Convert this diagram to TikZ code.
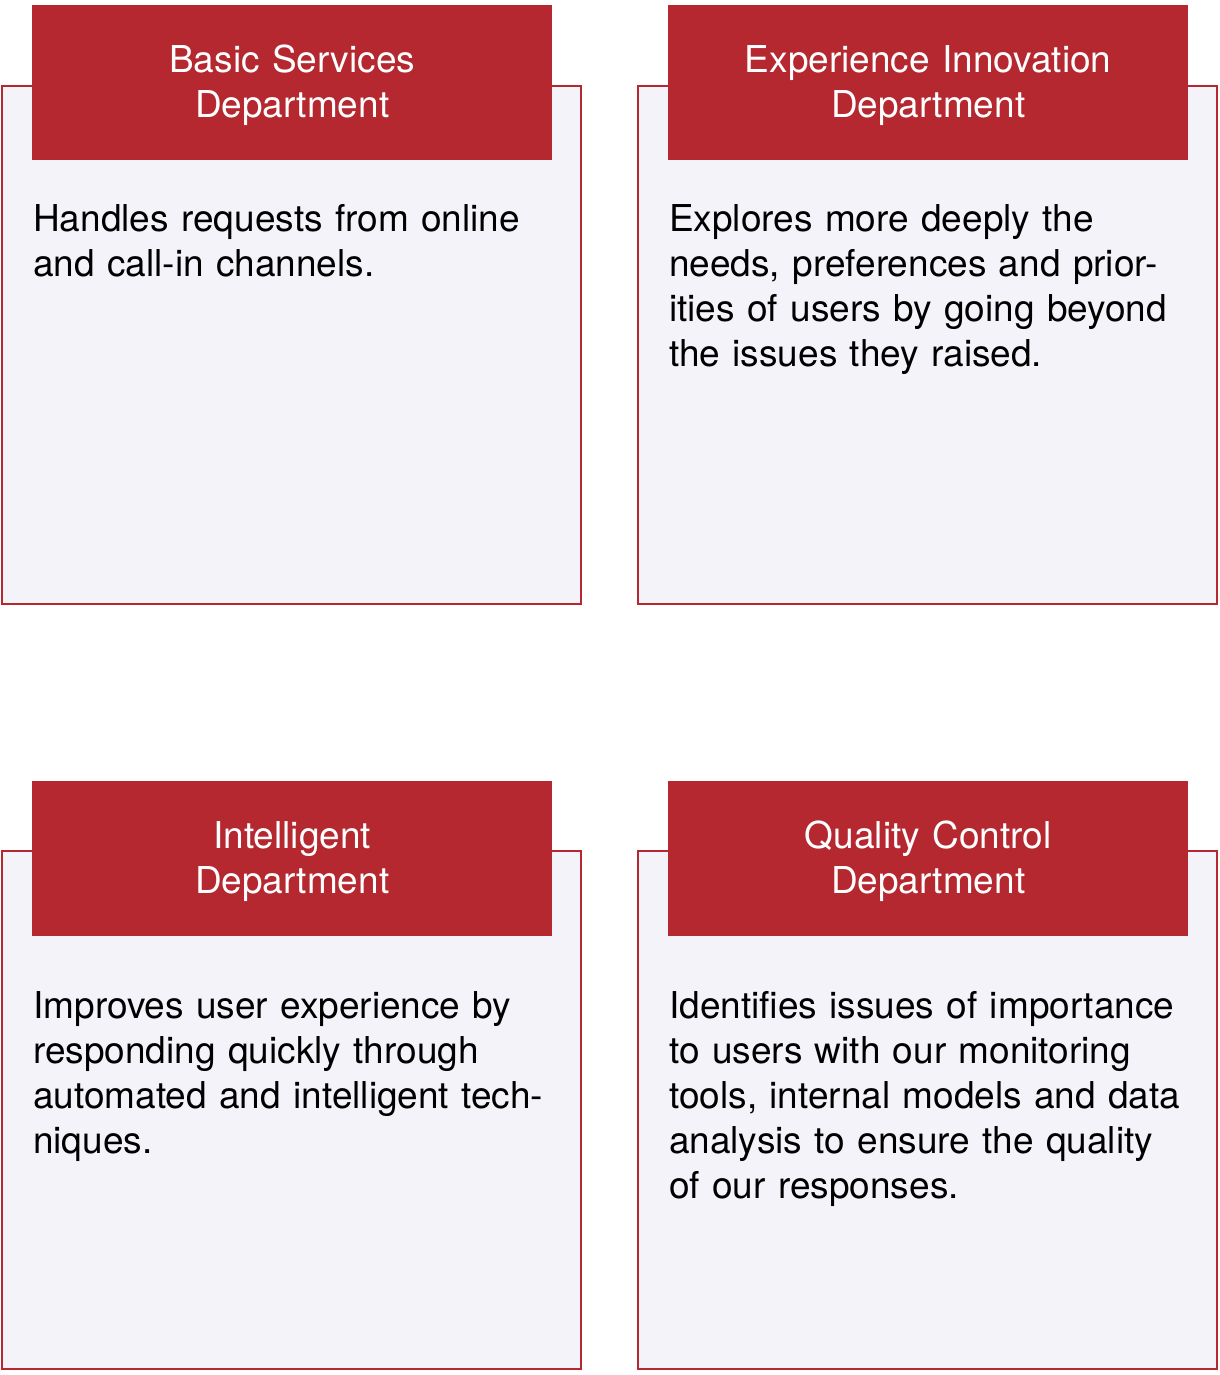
\documentclass[tikz,border=0pt]{standalone}
\usepackage{fontspec}
\setmainfont{TeX Gyre Heros}
\usepackage{xcolor}
\usepackage{tikz}
\definecolor{deptred}{RGB}{181,40,48}
\definecolor{panefill}{RGB}{244,243,250}

\begin{document}
\begin{tikzpicture}[
  x=1pt, y=-1pt,
  pane/.style={rectangle, draw=deptred, fill=panefill, line width=2.5pt,
               anchor=north west, minimum width=579pt, minimum height=518pt,
               inner sep=0pt, outer sep=0pt},
  headbar/.style={rectangle, fill=deptred, text=white, anchor=north west,
                  minimum width=520pt, minimum height=155pt, inner sep=0pt,
                  text width=520pt, align=center, text height=31.9pt,
                  font=\fontsize{37}{45}\selectfont},
  blurb/.style={anchor=base west, inner sep=0pt, text width=545pt,
                align=left, font=\fontsize{37}{45}\selectfont}]
\useasboundingbox (0,0) rectangle (1219,1375);
% top row
\node[pane] (basicPane) at (2,86) {};
\node[headbar] (basicHead) at (32,5) {Basic Services\\Department};
\node[blurb] (basicText) at (33,231) {Handles requests from online\\and call-in channels.};
\node[pane] (expPane) at (638,86) {};
\node[headbar] (expHead) at (668,5) {Experience Innovation\\Department};
\node[blurb] (expText) at (669,231) {Explores more deeply the\\needs, preferences and prior-\\ities of users by going beyond\\the issues they raised.};
% bottom row
\node[pane] (intPane) at (2,851) {};
\node[headbar] (intHead) at (32,781) {Intelligent\\Department};
\node[blurb] (intText) at (33,1018) {Improves user experience by\\responding quickly through\\automated and intelligent tech-\\niques.};
\node[pane] (qcPane) at (638,851) {};
\node[headbar] (qcHead) at (668,781) {Quality Control\\Department};
\node[blurb] (qcText) at (669,1018) {Identifies issues of importance\\to users with our monitoring\\tools, internal models and data\\analysis to ensure the quality\\of our responses.};
\end{tikzpicture}
\end{document}
